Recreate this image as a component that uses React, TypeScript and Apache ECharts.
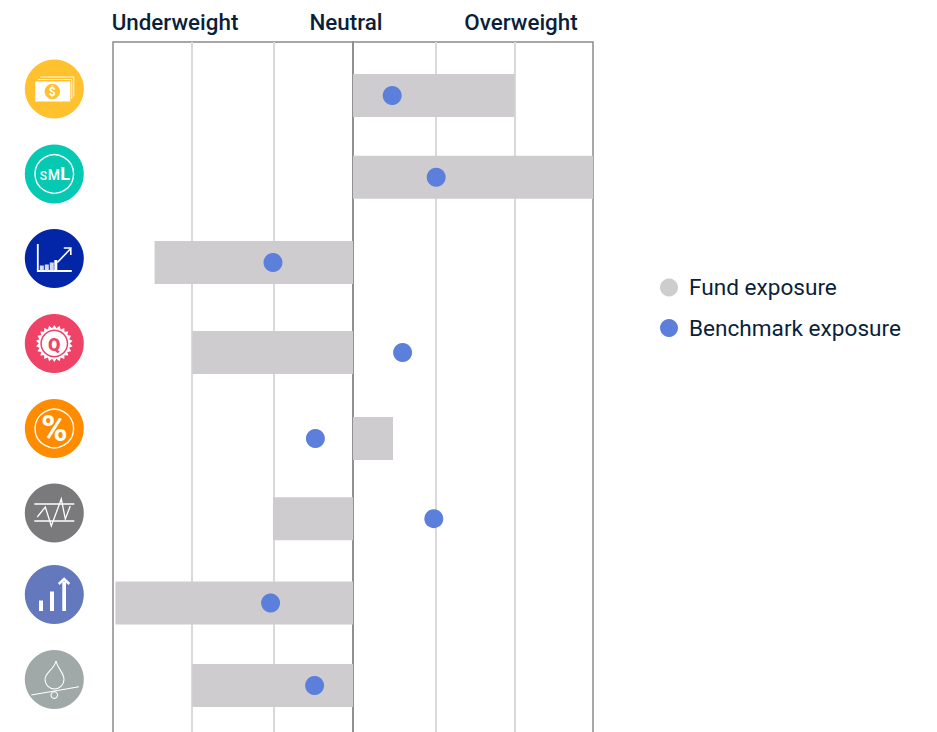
import React, { useEffect, useRef } from "react";
import * as echarts from "echarts";

const factors = ["Value", "Size", "Momentum", "Quality", "Yield", "Low volatility", "Growth", "Minimum variance"];
const fundExposure = [2.02, 3, -2.48, -2.01, 0.5, -1, -2.97, -2.01];
const benchmarkExposure = [0.49, 1.04, -1, 0.62, -0.47, 1.01, -1.03, -0.48];
// vertical place of each row, in rows (the reference spaces them slightly unevenly)
const rowPlaces = [0, 0.97, 1.98, 3.05, 4.07, 5.02, 6.02, 7];
const gridValues = [-3, -2.01, -0.99, 0, 1.03, 2.02, 3];
const headers = ["Underweight", "Neutral", "Overweight"];
const seriesNames = ["Fund exposure", "Benchmark exposure"];
const iconColors = ["#FFC12D", "#06C9B4", "#0326A8", "#EE4266", "#FF8C00", "#7A7A7C", "#6478BE", "#A0A8A8"];
const iconCentres = [89, 174, 258.5, 343.5, 428.5, 513, 594.5, 679.5];

const INK = "#0B1F3A";
const W = "#FFFFFF";
const line = (pts: number[][], width = 1.5, stroke = W) => ({
  type: "polyline",
  shape: { points: pts },
  style: { stroke, lineWidth: width, fill: null },
});
const rect = (x: number, y: number, width: number, height: number, fill = W) => ({
  type: "rect",
  shape: { x, y, width, height },
  style: { fill },
});
const ring = (r: number, width = 1.3, cx = 0, cy = 0) => ({
  type: "circle",
  shape: { cx, cy, r },
  style: { fill: null, stroke: W, lineWidth: width },
});
const label = (text: string, x: number, y: number, size: number, fill = W, weight: any = 700) => ({
  type: "text",
  x,
  y,
  style: { text, fill, font: `${weight} ${size}px Roboto`, textAlign: "center", textVerticalAlign: "middle" },
});

const seal = () => {
  const pts: number[][] = [];
  const n = 44;
  for (let i = 0; i < n; i++) {
    const a = (i / n) * Math.PI * 2;
    const r = i % 2 ? 18.5 : 15.5;
    pts.push([Math.cos(a) * r, Math.sin(a) * r]);
  }
  return { type: "polygon", shape: { points: pts }, style: { fill: W } };
};

const iconParts: any[][] = [
  [
    rect(-19, -7.5, 35, 20),
    line([[-16.5, -9.5], [17.5, -9.5], [17.5, 10]], 0.9),
    line([[-14, -12], [19.5, -12], [19.5, 7.5]], 0.9),
    { type: "circle", shape: { cx: -2, cy: 2.5, r: 7.7 }, style: { fill: "#FFC12D" } },
    label("$", -2, 3, 12),
  ],
  [
    ring(19.3, 1.4),
    label("S", -11, 1.8, 12, W, 500),
    label("M", -0.5, 1, 14, W, 500),
    label("L", 10.7, -0.5, 18, W, 700),
  ],
  [
    line([[-16.5, -14.5], [-16.5, 12.5], [17.5, 12.5]], 1.8),
    rect(-14.5, 7, 4, 5, "#D4DAF0"),
    rect(-9.5, 6, 4, 6, "#D4DAF0"),
    rect(-4.5, 4, 4, 8, "#D4DAF0"),
    rect(0, 1.5, 3, 11),
    line([[3, 4], [16, -9.5]], 1.6),
    line([[9.5, -10.5], [16.5, -10.5], [16.5, -3.5]], 1.6),
  ],
  [
    seal(),
    { type: "circle", shape: { cx: 0, cy: 0, r: 14 }, style: { fill: "#EE4266" } },
    { type: "circle", shape: { cx: 0, cy: 0, r: 12.5 }, style: { fill: W } },
    label("Q", 0, 0.5, 18, "#EE4266", 900),
  ],
  [ring(19.3, 1.4), label("%", 0, 0.5, 36, W, 700)],
  [
    line([[-20, -9], [20, -9]], 1.6),
    line([[-20, 8], [20, 8]], 1.6),
    line([[-17, 4], [-9, -6], [-3, 13], [7, -14], [11, 6], [16, -7]], 1.3),
  ],
  [
    rect(-15.3, 6, 4, 10.5),
    rect(-4.3, -3, 4, 19.5),
    rect(8, -13, 3.7, 29.5),
    line([[4.5, -10.5], [9.8, -15.5], [15, -10.5]], 2.5),
  ],
  [
    {
      type: "bezierCurve",
      shape: { x1: 1.7, y1: -18.5, x2: -9.3, y2: 0, cpx1: 0, cpy1: -10, cpx2: -9.3, cpy2: -7 },
      style: { stroke: W, lineWidth: 1.1, fill: null },
    },
    {
      type: "bezierCurve",
      shape: { x1: 1.7, y1: -18.5, x2: 9.7, y2: 0, cpx1: 3.5, cpy1: -10, cpx2: 9.7, cpy2: -7 },
      style: { stroke: W, lineWidth: 1.1, fill: null },
    },
    { type: "arc", shape: { cx: 0.2, cy: 0, r: 9.5, startAngle: 0, endAngle: Math.PI }, style: { stroke: W, lineWidth: 1.1, fill: null } },
    line([[-23, 15.5], [24.7, 7.2]], 1.1),
    ring(3.3, 1.1, 0, 15.5),
  ],
];

export default function App() {
  const ref = useRef<HTMLDivElement>(null);
  useEffect(() => {
    const chart = echarts.init(ref.current!, undefined, { renderer: "svg" });
    const icons = iconColors.map((color, i) => ({
      type: "group",
      x: 54.3,
      y: iconCentres[i],
      silent: true,
      children: [
        { type: "circle", shape: { cx: 0, cy: 0, r: 29.5 }, style: { fill: color } },
        ...iconParts[i],
      ],
    }));
    const headerPlaces = [175, 346, 521];
    const headerTexts = headers.map((text, i) => ({
      type: "text",
      x: headerPlaces[i],
      y: 22,
      style: { text, fill: INK, font: "500 22.4px Roboto", textAlign: "center", textVerticalAlign: "middle" },
    }));
    chart.setOption({
      animation: false,
      grid: { left: 113, top: 42, width: 480, height: 700, show: true, borderColor: "#8A8A8A", borderWidth: 1.5, backgroundColor: "transparent", containLabel: false },
      xAxis: {
        type: "value",
        min: -3,
        max: 3,
        position: "top",
        axisLine: { show: false },
        axisTick: { show: false, customValues: gridValues },
        axisLabel: { show: false },
        splitLine: { show: true, showMinLine: false, showMaxLine: false, lineStyle: { color: "#D9D9D9", width: 2 } },
      },
      yAxis: {
        type: "value",
        inverse: true,
        min: -0.635,
        max: 7.67,
        axisLine: { show: true, onZero: true, lineStyle: { color: "#777777", width: 1.5 } },
        axisTick: { show: false },
        axisLabel: { show: false },
        splitLine: { show: false },
      },
      legend: {
        orient: "vertical",
        left: 655,
        top: 271,
        itemWidth: 18,
        itemHeight: 18,
        itemGap: 17.5,
        icon: "circle",
        selectedMode: false,
        data: seriesNames,
        textStyle: { color: INK, fontFamily: "Roboto", fontSize: 22.6, padding: [0, 0, 0, 6] },
      },
      series: [
        {
          name: seriesNames[0],
          type: "custom",
          clip: true,
          z: 2,
          itemStyle: { color: "#CECCCF" },
          encode: { x: 1, y: 2 },
          data: fundExposure.map((v, i) => ({ name: factors[i], value: [0, v, rowPlaces[i]] })),
          renderItem: (params: any, api: any) => {
            const a = api.coord([api.value(0), api.value(2)]);
            const b = api.coord([api.value(1), api.value(2)]);
            const h = api.size([0, 0.51])[1];
            const left = Math.min(a[0], b[0]);
            return {
              type: "rect",
              shape: { x: left, y: a[1] - h / 2, width: Math.abs(a[0] - b[0]), height: h },
              style: { fill: "#CECCCF" },
            };
          },
        },
        {
          name: seriesNames[1],
          type: "scatter",
          z: 3,
          symbolSize: 19,
          itemStyle: { color: "#5B7FDB", opacity: 1 },
          data: benchmarkExposure.map((v, i) => ({ name: factors[i], value: [v, rowPlaces[i]] })),
        },
      ],
      graphic: [...headerTexts, ...icons],
    });
    return () => chart.dispose();
  }, []);
  return (
    <div style={{ position: "absolute", left: 0, top: 0, width: 937, height: 732, overflow: "hidden" }}>
      <div ref={ref} style={{ width: 937, height: 750 }} />
    </div>
  );
}
